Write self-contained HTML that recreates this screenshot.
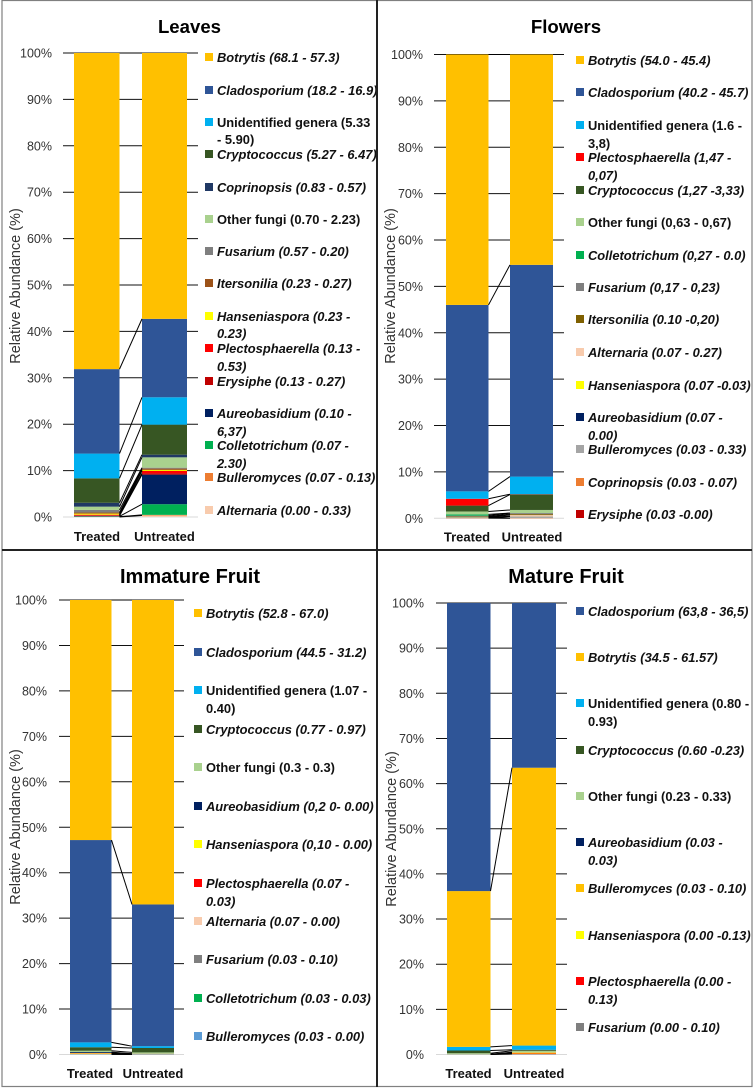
<!DOCTYPE html>
<html lang="en">
<head>
<meta charset="utf-8">
<title>Relative abundance of fungal genera</title>
<style>
html,body{margin:0;padding:0;background:#fff;width:755px;height:1089px;overflow:hidden}
svg{display:block;font-family:"Liberation Sans",sans-serif}
.title{font-size:20px;font-weight:bold;text-anchor:middle;fill:#000}
.title.small{font-size:18.6px}
.tick{font-size:12.5px;text-anchor:end;fill:#333}
.axis-title{font-size:14.5px;text-anchor:middle;fill:#333}
.cat{font-size:13px;font-weight:bold;text-anchor:middle;fill:#111}
.lg text{font-size:12.9px;font-weight:bold;fill:#111}
.lg text.i{font-style:italic}
</style>
</head>
<body>
<svg xmlns="http://www.w3.org/2000/svg" width="755" height="1089" viewBox="0 0 755 1089">
<rect x="0" y="0" width="755" height="1089" fill="#fff"/>

<text class="title small" x="189.5" y="33">Leaves</text>
<text class="title small" x="566" y="33">Flowers</text>
<text class="title" x="190" y="583">Immature Fruit</text>
<text class="title" x="566" y="583">Mature Fruit</text>

<g id="chart-leaves"></g>
<g id="chart-flowers"></g>
<g id="chart-immature"></g>
<g id="chart-mature"></g>

<g class="lg">
<g><rect x="205" y="53" width="8" height="8" fill="#FFC000"/><text class="i" x="217" y="62">Botrytis (68.1 - 57.3)</text></g>
<g><rect x="205" y="86" width="8" height="8" fill="#2F5597"/><text class="i" x="217" y="95">Cladosporium (18.2 - 16.9)</text></g>
<g><rect x="205" y="118" width="8" height="8" fill="#00B0F0"/><text x="217" y="127">Unidentified genera (5.33</text><text x="217" y="144">- 5.90)</text></g>
<g><rect x="205" y="150" width="8" height="8" fill="#375623"/><text class="i" x="217" y="159">Cryptococcus (5.27 - 6.47)</text></g>
<g><rect x="205" y="183" width="8" height="8" fill="#203864"/><text class="i" x="217" y="192">Coprinopsis (0.83 - 0.57)</text></g>
<g><rect x="205" y="215" width="8" height="8" fill="#A9D18E"/><text x="217" y="224">Other fungi (0.70 - 2.23)</text></g>
<g><rect x="205" y="247" width="8" height="8" fill="#7F7F7F"/><text class="i" x="217" y="256">Fusarium (0.57 - 0.20)</text></g>
<g><rect x="205" y="279" width="8" height="8" fill="#9C5218"/><text class="i" x="217" y="288">Itersonilia (0.23 - 0.27)</text></g>
<g><rect x="205" y="312" width="8" height="8" fill="#FFFF00"/><text class="i" x="217" y="321">Hanseniaspora (0.23 -</text><text class="i" x="217" y="338">0.23)</text></g>
<g><rect x="205" y="344" width="8" height="8" fill="#FF0000"/><text class="i" x="217" y="353">Plectosphaerella (0.13 -</text><text class="i" x="217" y="371">0.53)</text></g>
<g><rect x="205" y="377" width="8" height="8" fill="#C00000"/><text class="i" x="217" y="386">Erysiphe (0.13 - 0.27)</text></g>
<g><rect x="205" y="409" width="8" height="8" fill="#002060"/><text class="i" x="217" y="418">Aureobasidium (0.10 -</text><text class="i" x="217" y="436">6,37)</text></g>
<g><rect x="205" y="441" width="8" height="8" fill="#00B050"/><text class="i" x="217" y="450">Colletotrichum (0.07 -</text><text class="i" x="217" y="468">2.30)</text></g>
<g><rect x="205" y="473" width="8" height="8" fill="#ED7D31"/><text class="i" x="217" y="482">Bulleromyces (0.07 - 0.13)</text></g>
<g><rect x="205" y="506" width="8" height="8" fill="#F8CBAD"/><text class="i" x="217" y="515">Alternaria (0.00 - 0.33)</text></g>
</g>

<g class="lg">
<g><rect x="576" y="56" width="8" height="8" fill="#FFC000"/><text class="i" x="588" y="65">Botrytis (54.0 - 45.4)</text></g>
<g><rect x="576" y="88" width="8" height="8" fill="#2F5597"/><text class="i" x="588" y="97">Cladosporium (40.2 - 45.7)</text></g>
<g><rect x="576" y="121" width="8" height="8" fill="#00B0F0"/><text x="588" y="130">Unidentified genera (1.6 -</text><text x="588" y="148">3,8)</text></g>
<g><rect x="576" y="153" width="8" height="8" fill="#FF0000"/><text class="i" x="588" y="162">Plectosphaerella (1,47 -</text><text class="i" x="588" y="180">0,07)</text></g>
<g><rect x="576" y="186" width="8" height="8" fill="#375623"/><text class="i" x="588" y="195">Cryptococcus (1,27 -3,33)</text></g>
<g><rect x="576" y="218" width="8" height="8" fill="#A9D18E"/><text x="588" y="227">Other fungi (0,63 - 0,67)</text></g>
<g><rect x="576" y="251" width="8" height="8" fill="#00B050"/><text class="i" x="588" y="260">Colletotrichum (0,27 - 0.0)</text></g>
<g><rect x="576" y="283" width="8" height="8" fill="#7F7F7F"/><text class="i" x="588" y="292">Fusarium (0,17 - 0,23)</text></g>
<g><rect x="576" y="315" width="8" height="8" fill="#7F6000"/><text class="i" x="588" y="324">Itersonilia (0.10 -0,20)</text></g>
<g><rect x="576" y="348" width="8" height="8" fill="#F8CBAD"/><text class="i" x="588" y="357">Alternaria (0.07 - 0.27)</text></g>
<g><rect x="576" y="381" width="8" height="8" fill="#FFFF00"/><text class="i" x="588" y="390">Hanseniaspora (0.07 -0.03)</text></g>
<g><rect x="576" y="413" width="8" height="8" fill="#002060"/><text class="i" x="588" y="422">Aureobasidium (0.07 -</text><text class="i" x="588" y="440">0.00)</text></g>
<g><rect x="576" y="445" width="8" height="8" fill="#A5A5A5"/><text class="i" x="588" y="454">Bulleromyces (0.03 - 0.33)</text></g>
<g><rect x="576" y="478" width="8" height="8" fill="#ED7D31"/><text class="i" x="588" y="487">Coprinopsis (0.03 - 0.07)</text></g>
<g><rect x="576" y="510" width="8" height="8" fill="#C00000"/><text class="i" x="588" y="519">Erysiphe (0.03 -0.00)</text></g>
</g>

<g class="lg">
<g><rect x="194" y="609" width="8" height="8" fill="#FFC000"/><text class="i" x="206" y="618">Botrytis (52.8 - 67.0)</text></g>
<g><rect x="194" y="648" width="8" height="8" fill="#2F5597"/><text class="i" x="206" y="657">Cladosporium (44.5 - 31.2)</text></g>
<g><rect x="194" y="686" width="8" height="8" fill="#00B0F0"/><text x="206" y="695">Unidentified genera (1.07 -</text><text x="206" y="713">0.40)</text></g>
<g><rect x="194" y="725" width="8" height="8" fill="#375623"/><text class="i" x="206" y="734">Cryptococcus (0.77 - 0.97)</text></g>
<g><rect x="194" y="763" width="8" height="8" fill="#A9D18E"/><text x="206" y="772">Other fungi (0.3 - 0.3)</text></g>
<g><rect x="194" y="802" width="8" height="8" fill="#002060"/><text class="i" x="206" y="811">Aureobasidium (0,2 0- 0.00)</text></g>
<g><rect x="194" y="840" width="8" height="8" fill="#FFFF00"/><text class="i" x="206" y="849">Hanseniaspora (0,10 - 0.00)</text></g>
<g><rect x="194" y="879" width="8" height="8" fill="#FF0000"/><text class="i" x="206" y="888">Plectosphaerella (0.07 -</text><text class="i" x="206" y="906">0.03)</text></g>
<g><rect x="194" y="917" width="8" height="8" fill="#F8CBAD"/><text class="i" x="206" y="926">Alternaria (0.07 - 0.00)</text></g>
<g><rect x="194" y="955" width="8" height="8" fill="#7F7F7F"/><text class="i" x="206" y="964">Fusarium (0.03 - 0.10)</text></g>
<g><rect x="194" y="994" width="8" height="8" fill="#00B050"/><text class="i" x="206" y="1003">Colletotrichum (0.03 - 0.03)</text></g>
<g><rect x="194" y="1032" width="8" height="8" fill="#5B9BD5"/><text class="i" x="206" y="1041">Bulleromyces (0.03 - 0.00)</text></g>
</g>

<g class="lg">
<g><rect x="576" y="607" width="8" height="8" fill="#2F5597"/><text class="i" x="588" y="616">Cladosporium (63,8 - 36,5)</text></g>
<g><rect x="576" y="653" width="8" height="8" fill="#FFC000"/><text class="i" x="588" y="662">Botrytis (34.5 - 61.57)</text></g>
<g><rect x="576" y="699" width="8" height="8" fill="#00B0F0"/><text x="588" y="708">Unidentified genera (0.80 -</text><text x="588" y="726">0.93)</text></g>
<g><rect x="576" y="746" width="8" height="8" fill="#375623"/><text class="i" x="588" y="755">Cryptococcus (0.60 -0.23)</text></g>
<g><rect x="576" y="792" width="8" height="8" fill="#A9D18E"/><text x="588" y="801">Other fungi (0.23 - 0.33)</text></g>
<g><rect x="576" y="838" width="8" height="8" fill="#002060"/><text class="i" x="588" y="847">Aureobasidium (0.03 -</text><text class="i" x="588" y="865">0.03)</text></g>
<g><rect x="576" y="884" width="8" height="8" fill="#FFC000"/><text class="i" x="588" y="893">Bulleromyces (0.03 - 0.10)</text></g>
<g><rect x="576" y="931" width="8" height="8" fill="#FFFF00"/><text class="i" x="588" y="940">Hanseniaspora (0.00 -0.13)</text></g>
<g><rect x="576" y="977" width="8" height="8" fill="#FF0000"/><text class="i" x="588" y="986">Plectosphaerella (0.00 -</text><text class="i" x="588" y="1004">0.13)</text></g>
<g><rect x="576" y="1023" width="8" height="8" fill="#7F7F7F"/><text class="i" x="588" y="1032">Fusarium (0.00 - 0.10)</text></g>
</g>

<g>
<rect x="2" y="0.5" width="750" height="1086" fill="none" stroke="#808080" stroke-width="1.2"/>
<line x1="377" y1="0" x2="377" y2="1087" stroke="#222" stroke-width="2"/>
<line x1="2" y1="550" x2="752" y2="550" stroke="#222" stroke-width="2"/>
</g>
</svg>

<script>
// Shared axis and category data
const tickValues = [0, 10, 20, 30, 40, 50, 60, 70, 80, 90, 100];
const categories = ['Treated', 'Untreated'];

// Leaves (series listed bottom to top of the stack)
const leavesSeries = ['Alternaria', 'Bulleromyces', 'Colletotrichum', 'Aureobasidium', 'Erysiphe', 'Plectosphaerella', 'Hanseniaspora', 'Itersonilia', 'Fusarium', 'Other fungi', 'Coprinopsis', 'Cryptococcus', 'Unidentified genera', 'Cladosporium', 'Botrytis'];
const leavesTreated = [0.00, 0.07, 0.07, 0.10, 0.13, 0.13, 0.23, 0.23, 0.57, 0.70, 0.83, 5.27, 5.33, 18.2, 68.1];
const leavesUntreated = [0.33, 0.13, 2.30, 6.37, 0.27, 0.53, 0.23, 0.27, 0.20, 2.23, 0.57, 6.47, 5.90, 16.9, 57.3];

// Flowers
const flowersSeries = ['Erysiphe', 'Coprinopsis', 'Bulleromyces', 'Aureobasidium', 'Hanseniaspora', 'Alternaria', 'Itersonilia', 'Fusarium', 'Colletotrichum', 'Other fungi', 'Cryptococcus', 'Plectosphaerella', 'Unidentified genera', 'Cladosporium', 'Botrytis'];
const flowersTreated = [0.03, 0.03, 0.03, 0.07, 0.07, 0.07, 0.10, 0.17, 0.27, 0.63, 1.27, 1.47, 1.6, 40.2, 54.0];
const flowersUntreated = [0.00, 0.07, 0.33, 0.00, 0.03, 0.27, 0.20, 0.23, 0.00, 0.67, 3.33, 0.07, 3.8, 45.7, 45.4];

// Immature fruit
const immatureSeries = ['Bulleromyces', 'Colletotrichum', 'Fusarium', 'Alternaria', 'Plectosphaerella', 'Hanseniaspora', 'Aureobasidium', 'Other fungi', 'Cryptococcus', 'Unidentified genera', 'Cladosporium', 'Botrytis'];
const immatureTreated = [0.03, 0.03, 0.03, 0.07, 0.07, 0.10, 0.20, 0.3, 0.77, 1.07, 44.5, 52.8];
const immatureUntreated = [0.00, 0.03, 0.10, 0.00, 0.03, 0.00, 0.00, 0.3, 0.97, 0.40, 31.2, 67.0];

// Mature fruit
const matureSeries = ['Fusarium', 'Plectosphaerella', 'Hanseniaspora', 'Bulleromyces', 'Aureobasidium', 'Other fungi', 'Cryptococcus', 'Unidentified genera', 'Botrytis', 'Cladosporium'];
const matureTreated = [0.00, 0.00, 0.00, 0.03, 0.03, 0.23, 0.60, 0.80, 34.5, 63.8];
const matureUntreated = [0.10, 0.13, 0.13, 0.10, 0.03, 0.33, 0.23, 0.93, 61.57, 36.5];

const SVG_NS = 'http://www.w3.org/2000/svg';
const baseColors = {
  'Botrytis': '#FFC000', 'Cladosporium': '#2F5597', 'Unidentified genera': '#00B0F0',
  'Cryptococcus': '#375623', 'Coprinopsis': '#203864', 'Other fungi': '#A9D18E',
  'Fusarium': '#7F7F7F', 'Itersonilia': '#9C5218', 'Hanseniaspora': '#FFFF00',
  'Plectosphaerella': '#FF0000', 'Erysiphe': '#C00000', 'Aureobasidium': '#002060',
  'Colletotrichum': '#00B050', 'Bulleromyces': '#ED7D31', 'Alternaria': '#F8CBAD'
};

function make(tag, attrs, parent) {
  const el = document.createElementNS(SVG_NS, tag);
  for (const k in attrs) el.setAttribute(k, attrs[k]);
  parent.appendChild(el);
  return el;
}
function slug(s) { return s.toLowerCase().replace(/\s+/g, '-'); }

function drawChart(id, series, treated, untreated, layout, colorOverrides) {
  const root = document.getElementById(id);
  const yScale = function (pct) { return layout.y0 + (layout.y100 - layout.y0) * pct / 100; };
  const columns = [treated, untreated];
  const colors = Object.assign({}, baseColors, colorOverrides || {});

  // gridlines and tick labels
  tickValues.forEach(function (t) {
    const y = yScale(t);
    const grid = make('line', { x1: layout.gridL, x2: layout.gridR, y1: y, y2: y, stroke: t === 0 ? '#d9d9d9' : '#111', 'stroke-width': 1 }, root);
    
    
    const label = make('text', { class: 'tick', x: layout.tickX, y: y + 4.5 }, root);
    label.textContent = t + '%';
    
    
  });

  // y axis title
  const title = make('text', { class: 'axis-title', transform: 'translate(' + layout.titleX + ',' + layout.titleY + ') rotate(-90)' }, root);
  title.textContent = 'Relative Abundance (%)';
  
  

  // stacked bars
  const totals = columns.map(function (col) { return col.reduce(function (a, b) { return a + b; }, 0); });
  const tops = [[], []];
  columns.forEach(function (col, c) {
    let cum = 0;
    col.forEach(function (v, i) {
      const share = v / totals[c] * 100;
      const yBottom = yScale(cum);
      cum += share;
      const yTop = yScale(cum);
      tops[c][i] = yTop;
      const seg = make('rect', { x: layout.barX[c], width: layout.barW[c], y: yTop, height: Math.max(0, yBottom - yTop), fill: colors[series[i]] }, root);
      
      
    });
  });

  // series connector lines
  series.forEach(function (s, i) {
    const line = make('line', { x1: layout.barX[0] + layout.barW[0], y1: tops[0][i], x2: layout.barX[1], y2: tops[1][i], stroke: '#000', 'stroke-width': 1 }, root);
    
    
  });

  // category labels
  categories.forEach(function (cat, c) {
    const label = make('text', { class: 'cat', x: layout.catX[c], y: layout.catY }, root);
    label.textContent = cat;
    
    
  });
}

drawChart('chart-leaves', leavesSeries, leavesTreated, leavesUntreated,
  { y0: 517, y100: 53, gridL: 63, gridR: 198, tickX: 52, titleX: 20, titleY: 286, barX: [74, 142], barW: [45.5, 45], catX: [97, 164.5], catY: 541 });
drawChart('chart-flowers', flowersSeries, flowersTreated, flowersUntreated,
  { y0: 518.3, y100: 54.5, gridL: 434, gridR: 564, tickX: 423, titleX: 395, titleY: 286, barX: [446, 510], barW: [42.5, 43], catX: [467, 532], catY: 541.5 },
  { 'Bulleromyces': '#A5A5A5', 'Coprinopsis': '#ED7D31', 'Itersonilia': '#7F6000' });
drawChart('chart-immature', immatureSeries, immatureTreated, immatureUntreated,
  { y0: 1054.5, y100: 600, gridL: 59, gridR: 184, tickX: 47, titleX: 20, titleY: 827, barX: [70, 132], barW: [41.5, 42], catX: [90, 153], catY: 1078 },
  { 'Bulleromyces': '#5B9BD5' });
drawChart('chart-mature', matureSeries, matureTreated, matureUntreated,
  { y0: 1054.5, y100: 603, gridL: 436, gridR: 567, tickX: 424, titleX: 396, titleY: 829, barX: [447, 512], barW: [43.5, 44], catX: [468.5, 534], catY: 1078 },
  { 'Bulleromyces': '#FFC000' });
</script>
</body>
</html>
